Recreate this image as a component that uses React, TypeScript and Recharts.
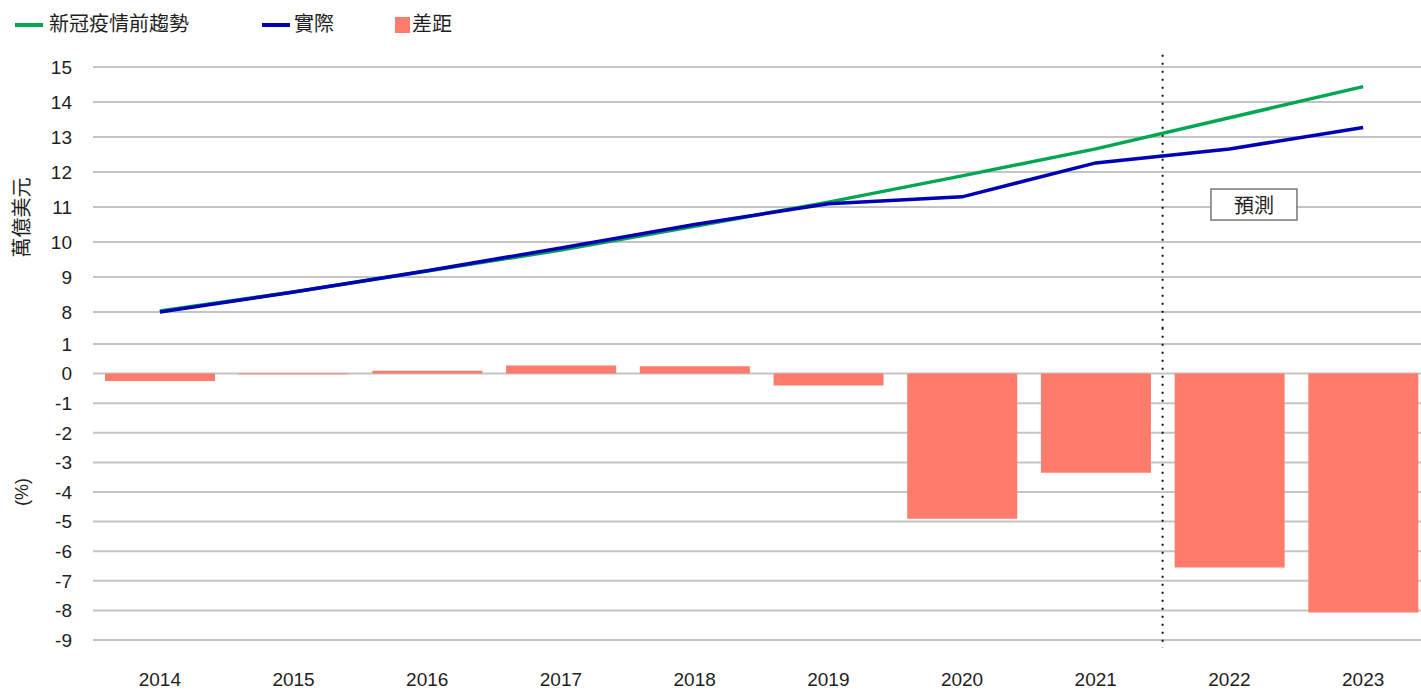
import React from 'react';
import {
  LineChart,
  Line,
  BarChart,
  Bar,
  XAxis,
  YAxis,
  CartesianGrid,
  ReferenceLine,
  ReferenceDot,
} from 'recharts';

const years = ['2014', '2015', '2016', '2017', '2018', '2019', '2020', '2021', '2022', '2023'];
const trendValues = [8.03, 8.57, 9.17, 9.77, 10.45, 11.14, 11.89, 12.66, 13.55, 14.44];
const actualValues = [8.0, 8.57, 9.18, 9.83, 10.5, 11.09, 11.29, 12.26, 12.66, 13.27];
const gapValues = [-0.25, -0.02, 0.1, 0.27, 0.25, -0.4, -4.9, -3.35, -6.55, -8.07];
const topTicks = [8, 9, 10, 11, 12, 13, 14, 15];
const bottomTicks = [1, 0, -1, -2, -3, -4, -5, -6, -7, -8, -9];

const trendName = '新冠疫情前趨勢';
const actualName = '實際';
const gapName = '差距';
const topAxisTitle = '萬億美元';
const bottomAxisTitle = '(%)';
const forecastLabel = '預測';
const lastActualYear = '2021';
const forecastYear = '2022';

const GREEN = '#00a651';
const BLUE = '#0000b4';
const SALMON = '#ff7b6b';
const GRID = '#c4c4c4';
const TEXT = '#1e1e1e';
const FONT = '"Liberation Sans", "Noto Sans CJK TC", Arial, sans-serif';

const lineData = years.map((year, i) => ({ year, trend: trendValues[i], actual: actualValues[i] }));
const barData = years.map((year, i) => ({ year, gap: gapValues[i] }));

const tickStyle = { fill: TEXT, fontSize: 19, fontFamily: FONT };

// box with the forecast text, anchored to the 2022 category
const ForecastBox = (props: any) => {
  const { cx, cy } = props;
  return (
    <g>
      <rect x={cx - 18.5} y={cy - 15.5} width={86} height={31} fill="#fff" stroke="#777" strokeWidth={1.5} />
      <text x={cx + 24.5} y={cy + 1} textAnchor="middle" dominantBaseline="central" fontSize={20} fill={TEXT} fontFamily={FONT}>
        {forecastLabel}
      </text>
    </g>
  );
};

const axisTitle = (text: string, shift: number, size: number) => (props: any) => {
  const vb = props.viewBox;
  const x = vb.x + 22;
  const y = vb.y + vb.height / 2 + shift;
  return (
    <text x={x} y={y} transform={`rotate(-90 ${x} ${y})`} textAnchor="middle" dominantBaseline="central" fontSize={size} fill={TEXT} fontFamily={FONT}>
      {text}
    </text>
  );
};

function LegendRow() {
  const item = { position: 'absolute' as const, top: 12, fontSize: 20, color: TEXT, fontFamily: FONT, lineHeight: '24px' };
  return (
    <>
      <div style={{ position: 'absolute', left: 15, top: 23, width: 28, height: 4, background: GREEN }} />
      <div style={{ ...item, left: 49 }}>{trendName}</div>
      <div style={{ position: 'absolute', left: 262, top: 23, width: 28, height: 4, background: BLUE }} />
      <div style={{ ...item, left: 294 }}>{actualName}</div>
      <div style={{ position: 'absolute', left: 395, top: 17, width: 15, height: 16, background: SALMON }} />
      <div style={{ ...item, left: 412 }}>{gapName}</div>
    </>
  );
}

export default function App() {
  return (
    <div style={{ position: 'absolute', left: 0, top: 0, width: 1421, height: 690, overflow: 'hidden', background: '#fff', fontFamily: FONT }}>
      <LegendRow />
      <div style={{ position: 'absolute', left: 0, top: 0 }}>
        <LineChart width={1440} height={328} data={lineData} margin={{ top: 67, right: 10, bottom: 16, left: 0 }}>
          <CartesianGrid vertical={false} stroke={GRID} strokeWidth={2} />
          <XAxis dataKey="year" scale="band" hide />
          <YAxis
            domain={[8, 15]}
            ticks={topTicks}
            interval={0}
            width={93}
            axisLine={false}
            tickLine={false}
            tickMargin={15}
            tick={tickStyle}
            label={{ content: axisTitle(topAxisTitle, 28, 20) }}
          />
          <ReferenceLine
            segment={[{ x: lastActualYear, y: 15.35 }, { x: lastActualYear, y: 7.5 }]}
            position="end"
            ifOverflow="visible"
            stroke="#111"
            strokeWidth={2}
            strokeDasharray="2 6"
          />
          <Line type="linear" dataKey="trend" name={trendName} stroke={GREEN} strokeWidth={3.5} dot={false} isAnimationActive={false} />
          <Line type="linear" dataKey="actual" name={actualName} stroke={BLUE} strokeWidth={3.5} dot={false} isAnimationActive={false} />
          <ReferenceDot x={forecastYear} y={11.07} ifOverflow="visible" shape={ForecastBox} />
        </LineChart>
      </div>
      <div style={{ position: 'absolute', left: 0, top: 328 }}>
        <BarChart width={1440} height={362} data={barData} margin={{ top: 16, right: 10, bottom: 0, left: 0 }} barCategoryGap="9%">
          <CartesianGrid vertical={false} stroke={GRID} strokeWidth={2} />
          <XAxis dataKey="year" height={50} interval={0} axisLine={false} tickLine={false} tickMargin={27} tick={tickStyle} />
          <YAxis
            domain={[-9, 1]}
            ticks={bottomTicks}
            interval={0}
            width={93}
            axisLine={false}
            tickLine={false}
            tickMargin={15}
            tick={tickStyle}
            label={{ content: axisTitle(bottomAxisTitle, 0, 18) }}
          />
          <Bar dataKey="gap" name={gapName} fill={SALMON} isAnimationActive={false} />
          <ReferenceLine
            segment={[{ x: lastActualYear, y: 1.55 }, { x: lastActualYear, y: -9.27 }]}
            position="end"
            ifOverflow="visible"
            stroke="#111"
            strokeWidth={2}
            strokeDasharray="2 6"
          />
        </BarChart>
      </div>
    </div>
  );
}
